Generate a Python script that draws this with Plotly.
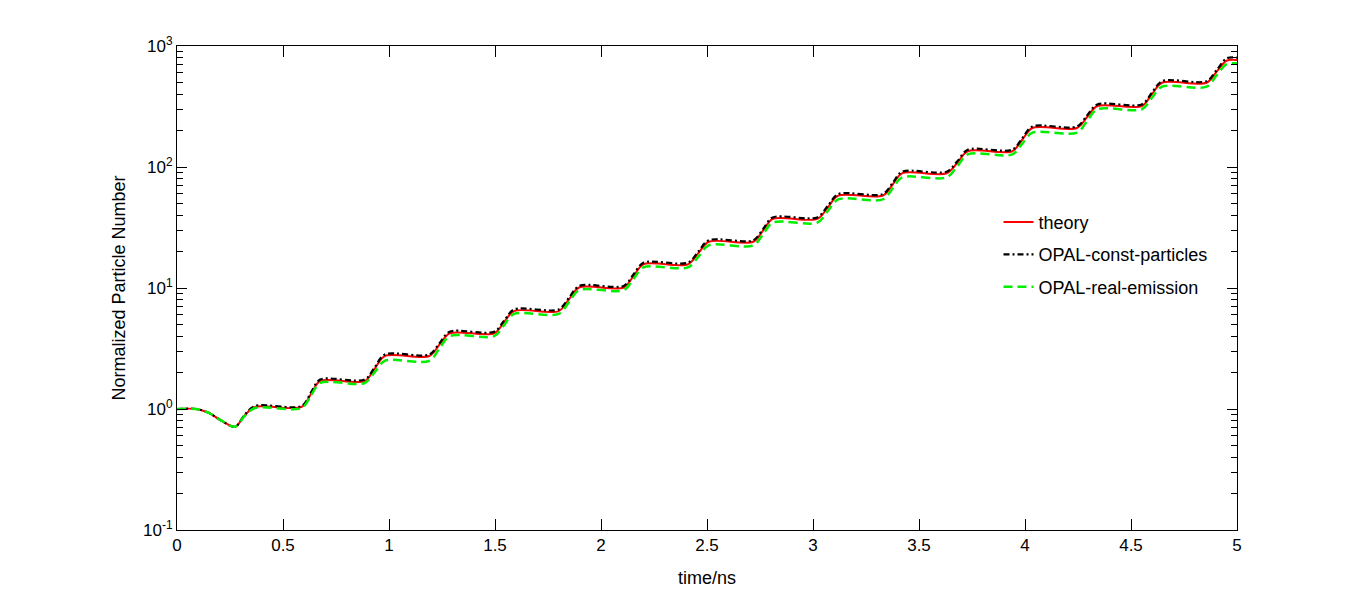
import plotly.graph_objects as go

# ── Data ─────────────────────────────────────────────────────
# time axis (ns): initial dip, then for each step: mid-rise, flat start, flat end
time_ns = [
    0.0, 0.09, 0.15, 0.20, 0.274, 0.32, 0.368, 0.588,
    0.632, 0.675, 0.885,
    0.933, 0.98, 1.19,
    1.238, 1.286, 1.496,
    1.543, 1.59, 1.80,
    1.849, 1.897, 2.107,
    2.154, 2.20, 2.41,
    2.46, 2.508, 2.718,
    2.765, 2.81, 3.02,
    3.07, 3.119, 3.329,
    3.376, 3.42, 3.63,
    3.682, 3.73, 3.94,
    3.987, 4.035, 4.245,
    4.293, 4.341, 4.551,
    4.598, 4.6465, 4.856,
    4.905, 4.95, 5.0,
]

theory = [
    1.0, 1.0, 0.93, 0.82, 0.714, 0.89, 1.04, 1.04,
    1.33, 1.70, 1.70,
    2.16, 2.74, 2.74,
    3.40, 4.22, 4.22,
    5.22, 6.45, 6.45,
    8.07, 10.1, 10.1,
    12.6, 15.7, 15.7,
    19.5, 24.1, 24.1,
    29.9, 37.2, 37.2,
    46.4, 58.0, 58.0,
    71.7, 88.7, 88.7,
    109, 135, 135,
    168, 210, 210,
    259, 319, 319,
    398, 497, 497,
    617, 755, 766,
]

const_particles = [
    1.0, 1.0, 0.93, 0.82, 0.714, 0.90, 1.06, 1.06,
    1.37, 1.75, 1.75,
    2.22, 2.82, 2.82,
    3.50, 4.35, 4.35,
    5.38, 6.65, 6.65,
    8.31, 10.4, 10.4,
    13.0, 16.2, 16.2,
    20.1, 24.8, 24.8,
    30.8, 38.3, 38.3,
    47.8, 59.7, 59.7,
    73.9, 91.4, 91.4,
    112, 139, 139,
    173, 216, 216,
    267, 329, 329,
    410, 512, 512,
    636, 790, 800,
]

real_emission = [
    1.0, 1.0, 0.93, 0.82, 0.714, 0.88, 1.02, 1.02,
    1.29, 1.64, 1.64,
    2.02, 2.50, 2.50,
    3.16, 4.00, 4.00,
    4.94, 6.10, 6.10,
    7.65, 9.60, 9.60,
    11.9, 14.8, 14.8,
    18.2, 22.5, 22.5,
    27.9, 34.7, 34.7,
    43.3, 54.0, 54.0,
    66.5, 82.0, 82.0,
    102, 127, 127,
    156, 192, 192,
    240, 300, 300,
    372, 461, 461,
    576, 705, 719,
]

x_ticks = [0, 0.5, 1, 1.5, 2, 2.5, 3, 3.5, 4, 4.5, 5]
x_tick_text = ["0", "0.5", "1", "1.5", "2", "2.5", "3", "3.5", "4", "4.5", "5"]
y_ticks = [0.1, 1, 10, 100, 1000]
y_tick_text = ["10<sup>-1</sup>", "10<sup>0</sup>", "10<sup>1</sup>",
               "10<sup>2</sup>", "10<sup>3</sup>"]
y_minor = [m * 10 ** e for e in range(-1, 3) for m in range(2, 10)]

FONT = "Liberation Sans, Arial, sans-serif"

fig = go.Figure()

fig.add_trace(go.Scatter(
    x=time_ns, y=theory, name="theory", mode="lines",
    legendgroup="a",
    line=dict(color="#ff0000", width=2, shape="spline", smoothing=0.9),
))
fig.add_trace(go.Scatter(
    x=time_ns, y=const_particles, name="OPAL-const-particles", mode="lines",
    legendgroup="b",
    line=dict(color="#000000", width=2.2, dash="6px,3px,2px,3px",
              shape="spline", smoothing=0.9),
))
fig.add_trace(go.Scatter(
    x=time_ns, y=real_emission, name="OPAL-real-emission", mode="lines",
    legendgroup="c",
    line=dict(color="#00ee00", width=2.5, dash="9px,5px",
              shape="spline", smoothing=0.9),
))

axis_common = dict(
    showline=True, linecolor="black", linewidth=1, mirror="ticks",
    ticks="inside", tickcolor="black", showgrid=False, zeroline=False,
    tickfont=dict(family=FONT, size=17, color="black"),
    title_font=dict(family=FONT, size=18, color="black"),
)

fig.update_xaxes(
    range=[0, 5], tickvals=x_ticks, ticktext=x_tick_text, ticklen=11,
    title_text="time/ns", title_standoff=16, **axis_common,
)
fig.update_yaxes(
    type="log", range=[-1, 3], tickvals=y_ticks, ticktext=y_tick_text,
    ticklen=10, title_text="Normalized Particle Number", title_standoff=12,
    minor=dict(ticks="inside", tickvals=y_minor, ticklen=6, tickcolor="black",
               showgrid=False),
    **axis_common,
)

fig.update_layout(
    width=1366, height=594,
    paper_bgcolor="white", plot_bgcolor="white",
    margin=dict(l=169, r=137, t=38, b=72),
    font=dict(family=FONT, size=16, color="black"),
    showlegend=True,
    legend=dict(
        x=0.775, y=0.674, xanchor="left", yanchor="top",
        bgcolor="rgba(255,255,255,0)", borderwidth=0,
        traceorder="grouped", tracegroupgap=6,
        font=dict(family=FONT, size=18, color="black"),
    ),
)

fig.write_html("out.html")
